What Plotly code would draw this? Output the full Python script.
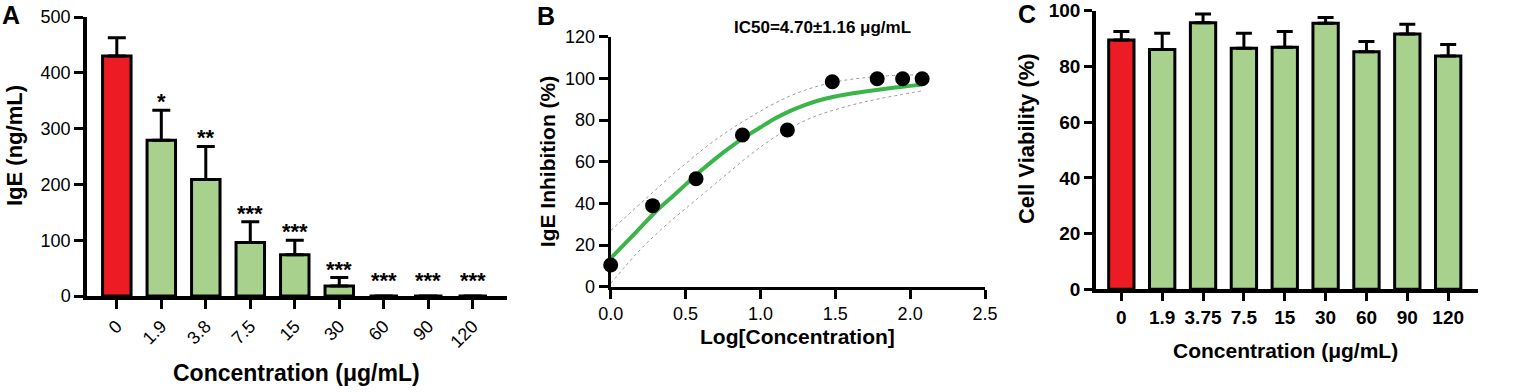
import plotly.graph_objects as go

W, H = 1530, 392
FONT = "Liberation Sans, Arial, sans-serif"
RED = "#ED1C24"
GREEN = "#A9D18E"
LINE_GREEN = "#3BB54A"

# Panel A: IgE level per concentration
conc_a = ["0", "1.9", "3.8", "7.5", "15", "30", "60", "90", "120"]
ige_mean = [430, 279, 209, 96, 74, 18, 0, 0, 0]
ige_upper = [463, 333, 268, 133, 100, 33, 0, 0, 0]
ige_stars = ["", "*", "**", "***", "***", "***", "***", "***", "***"]

# Panel B: inhibition vs log concentration
log_conc = [0.0, 0.28, 0.57, 0.88, 1.18, 1.48, 1.78, 1.95, 2.08]
inhibition = [10.4, 38.9, 51.8, 72.8, 75.2, 98.4, 99.8, 99.8, 99.8]

fit_x = [0.0, 0.1, 0.2, 0.3, 0.4, 0.5, 0.6, 0.7, 0.8, 0.9, 1.0,
         1.1, 1.2, 1.3, 1.4, 1.5, 1.6, 1.7, 1.8, 1.9, 2.0, 2.08]
fit_y = [13.6, 21, 28.5, 36, 42.5, 49, 55.5, 61.5, 67, 72, 76.5,
         80.8, 84.4, 87.3, 89.6, 91.3, 92.6, 93.7, 94.7, 95.6, 96.4, 97.0]

band_up_x = [0.0, 0.1, 0.2, 0.3, 0.4, 0.5, 0.6, 0.7, 0.8, 0.9, 1.0,
             1.1, 1.2, 1.3, 1.4, 1.5, 1.6, 1.8, 2.08]
band_up_y = [27, 33.5, 40, 46.5, 53, 59, 65, 70.5, 75.5, 80, 84.3,
             88.2, 91.6, 94.4, 96.6, 98.3, 99.5, 101, 101.8]
band_lo_x = [0.0, 0.1, 0.2, 0.3, 0.4, 0.5, 0.6, 0.7, 0.8, 0.9, 1.0,
             1.1, 1.2, 1.3, 1.4, 1.6, 1.8, 2.08]
band_lo_y = [1.5, 10, 18, 25, 31.5, 37.5, 43.5, 49.5, 55.5, 61.5, 67,
             72, 76.2, 79.8, 82.7, 87, 90.3, 94]

# Panel C: cell viability per concentration
conc_c = ["0", "1.9", "3.75", "7.5", "15", "30", "60", "90", "120"]
viab_mean = [89.5, 86.1, 95.7, 86.5, 86.9, 95.5, 85.3, 91.6, 83.7]
viab_upper = [92.5, 91.9, 98.8, 91.9, 92.5, 97.6, 88.9, 95.1, 87.9]


def px_x(p):
    return p / W


def px_y(p):
    return 1 - p / H


bar_colors = [RED] + [GREEN] * 8

fig = go.Figure()

fig.add_trace(go.Bar(
    x=conc_a, y=ige_mean, width=0.64,
    marker=dict(color=bar_colors, line=dict(color="black", width=3)),
    error_y=dict(type="data", symmetric=False,
                 array=[u - m for u, m in zip(ige_upper, ige_mean)],
                 arrayminus=[0] * 9, color="black", thickness=3, width=9),
    xaxis="x", yaxis="y", showlegend=False,
))

fig.add_trace(go.Bar(
    x=conc_c, y=viab_mean, width=0.62,
    marker=dict(color=bar_colors, line=dict(color="black", width=3)),
    error_y=dict(type="data", symmetric=False,
                 array=[u - m for u, m in zip(viab_upper, viab_mean)],
                 arrayminus=[0] * 9, color="black", thickness=3, width=8),
    xaxis="x3", yaxis="y3", showlegend=False,
))

for bx, by in ((band_up_x, band_up_y), (band_lo_x, band_lo_y)):
    fig.add_trace(go.Scatter(
        x=bx, y=by, mode="lines",
        line=dict(color="#9a9a9a", width=1, dash="dot", shape="spline"),
        xaxis="x2", yaxis="y2", showlegend=False, cliponaxis=False,
    ))

fig.add_trace(go.Scatter(
    x=fit_x, y=fit_y, mode="lines", line=dict(color=LINE_GREEN, width=4, shape="spline"),
    xaxis="x2", yaxis="y2", showlegend=False, cliponaxis=False,
))
fig.add_trace(go.Scatter(
    x=log_conc, y=inhibition, mode="markers",
    marker=dict(color="black", size=15),
    xaxis="x2", yaxis="y2", showlegend=False, cliponaxis=False,
))

axis_common = dict(
    showline=True, linecolor="black", showgrid=False, zeroline=False,
    ticks="outside", tickcolor="black", automargin=False,
)

tick_reg = dict(family=FONT, size=18, color="black")
tick_bold = dict(family=FONT, size=19, color="black", weight="bold")

fig.update_layout(
    width=W, height=H,
    margin=dict(l=0, r=0, t=0, b=0),
    paper_bgcolor="white", plot_bgcolor="white",
    font=dict(family=FONT, color="black"),
    xaxis=dict(axis_common, domain=[px_x(87), px_x(507)], anchor="y",
               type="category", range=[-0.67, 8.77], tickangle=-45,
               linewidth=3.5, tickwidth=3, ticklen=9, tickfont=tick_reg),
    yaxis=dict(axis_common, domain=[px_y(296), px_y(17)], anchor="x",
               range=[0, 500], dtick=100,
               linewidth=3.5, tickwidth=3, ticklen=9, tickfont=tick_reg),
    xaxis2=dict(axis_common, domain=[px_x(610.7), px_x(985)], anchor="y2",
                range=[0, 2.5], dtick=0.5, tickformat=".1f",
                linewidth=3, tickwidth=2.5, ticklen=9, tickfont=tick_reg),
    yaxis2=dict(axis_common, domain=[px_y(286.7), px_y(36.7)], anchor="x2",
                range=[0, 120], dtick=20,
                linewidth=3, tickwidth=2.5, ticklen=9, tickfont=tick_reg),
    xaxis3=dict(axis_common, domain=[px_x(1096), px_x(1478)], anchor="y3",
                type="category", range=[-0.62, 8.73],
                linewidth=3.5, tickwidth=3, ticklen=8, tickfont=tick_bold),
    yaxis3=dict(axis_common, domain=[px_y(289.3), px_y(10.7)], anchor="x3",
                range=[0, 100], dtick=20,
                linewidth=3.5, tickwidth=3, ticklen=8, tickfont=tick_bold),
)

bold = dict(family=FONT, color="black")
annotations = []

# significance stars above the A bars (x given as category index)
for i, (u, s) in enumerate(zip(ige_upper, ige_stars)):
    if s:
        annotations.append(dict(
            x=i, y=max(u, 12), xref="x", yref="y", text="<b>" + s + "</b>",
            showarrow=False, yanchor="bottom", yshift=-6,
            font=dict(bold, size=22),
        ))


def label(text, x, y, size, angle=0):
    annotations.append(dict(
        x=px_x(x), y=px_y(y), xref="paper", yref="paper",
        text="<b>" + text + "</b>", showarrow=False, textangle=angle,
        xanchor="center", yanchor="middle", font=dict(bold, size=size),
    ))


label("A", 11, 15, 25)
label("B", 545.7, 16, 25)
label("C", 1026.7, 14, 25)
label("IgE (ng/mL)", 14, 146, 22, -90)
label("Concentration (μg/mL)", 296, 373, 23)
label("IgE Inhibition (%)", 547.5, 161.7, 21, -90)
label("Log[Concentration]", 797.8, 336.7, 21)
label("IC50=4.70±1.16 μg/mL", 822.7, 28, 17)
label("Cell Viability (%)", 1025.8, 138.3, 22, -90)
label("Concentration (μg/mL)", 1285.8, 350, 21)

fig.update_layout(annotations=annotations)

# drop the default page margin so the figure sits at the window origin
fig.write_html(
    "out.html",
    config={"displayModeBar": False},
    post_script="document.body.style.margin='0';",
)
